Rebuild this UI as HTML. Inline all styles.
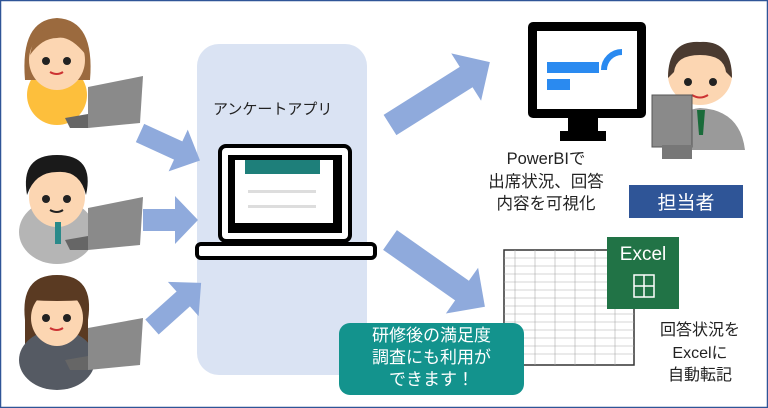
<!DOCTYPE html>
<html><head><meta charset="utf-8"><style>
body{margin:0;width:768px;height:408px;overflow:hidden;background:#fff;font-family:"Liberation Sans","Noto Sans CJK JP",sans-serif}
.t{position:absolute;white-space:nowrap;text-align:center}
</style></head><body>
<svg width="768" height="408" style="position:absolute;left:0;top:0">
<rect x="0.5" y="0.5" width="767" height="407" fill="#fff" stroke="#2f5597" stroke-width="1.5"/>
<rect x="197" y="44" width="170" height="331" rx="22" fill="#dae3f3"/>
<!-- arrows -->
<g fill="#8faadc">
<polygon transform="translate(140,133) rotate(24.6)" points="0,-10 42,-10 42,-23 66,0 42,23 42,10 0,10"/>
<polygon transform="translate(143,220)" points="0,-11 32,-11 32,-24 55,0 32,24 32,11 0,11"/>
<polygon transform="translate(152,327) rotate(-41.9)" points="0,-10 42,-10 42,-23 66,0 42,23 42,10 0,10"/>
<polygon transform="translate(390,125) rotate(-32.2)" points="0,-12 90,-12 90,-28 118,0 90,28 90,12 0,12"/>
<polygon transform="translate(390,240) rotate(35.1)" points="0,-12 88,-12 88,-28 116,0 88,28 88,12 0,12"/>
</g>
<!-- laptop -->
<rect x="220" y="146" width="130" height="95" rx="6" fill="#fff" stroke="#000" stroke-width="4"/>
<rect x="228" y="155" width="114" height="78" fill="#000"/>
<rect x="235" y="160" width="98" height="63" fill="#fff"/>
<rect x="245" y="160" width="75" height="14" fill="#1e7f7a"/>
<rect x="248" y="190" width="68" height="3" fill="#ddd"/><rect x="248" y="205" width="68" height="3" fill="#ddd"/>
<rect x="197" y="244" width="178" height="14" rx="4" fill="#fff" stroke="#000" stroke-width="4"/>
<!-- monitor -->
<rect x="528" y="22" width="118" height="96" rx="5" fill="#000"/>
<rect x="537" y="31" width="100" height="78" fill="#fff"/>
<rect x="547" y="62" width="52" height="11" fill="#2a8af0"/><rect x="547" y="79" width="23" height="11" fill="#2a8af0"/>
<path d="M604 70 A18 18 0 0 1 622 52" stroke="#2a8af0" stroke-width="6" fill="none"/>
<rect x="568" y="118" width="30" height="14" fill="#000"/><rect x="560" y="131" width="46" height="10" fill="#000"/>
<!-- right person -->
<ellipse cx="700" cy="75" rx="32" ry="30" fill="#fcd6b2"/>
<path d="M668 78 Q668 40 700 42 Q732 40 732 78 L726 72 Q724 55 700 55 Q676 55 674 72Z" fill="#4a3a30"/>
<circle cx="688" cy="82" r="4" fill="#222"/><circle cx="713" cy="82" r="4" fill="#222"/>
<path d="M692 95 Q700 100 708 95" stroke="#c33" stroke-width="2" fill="none"/>
<path d="M670 150 Q672 110 700 108 Q740 110 745 150Z" fill="#9a9a9a"/>
<path d="M697 110 L705 110 L703 135 L699 135Z" fill="#1a6b3a"/>
<rect x="652" y="95" width="40" height="52" fill="#8a8a8a" stroke="#555"/>
<rect x="662" y="145" width="30" height="14" fill="#777"/>
<!-- spreadsheet -->
<rect x="504" y="250" width="130" height="115" fill="#fff" stroke="#333" stroke-width="1.5"/>
<g stroke="#aaa" stroke-width="0.6">
<line x1="504" y1="258" x2="634" y2="258"/><line x1="504" y1="266" x2="634" y2="266"/><line x1="504" y1="274" x2="634" y2="274"/><line x1="504" y1="282" x2="634" y2="282"/><line x1="504" y1="290" x2="634" y2="290"/><line x1="504" y1="298" x2="634" y2="298"/><line x1="504" y1="306" x2="634" y2="306"/><line x1="504" y1="314" x2="634" y2="314"/><line x1="504" y1="322" x2="634" y2="322"/><line x1="504" y1="330" x2="634" y2="330"/><line x1="504" y1="338" x2="634" y2="338"/><line x1="504" y1="346" x2="634" y2="346"/><line x1="504" y1="354" x2="634" y2="354"/>
<line x1="515" y1="250" x2="515" y2="365"/><line x1="535" y1="250" x2="535" y2="365"/><line x1="555" y1="250" x2="555" y2="365"/><line x1="575" y1="250" x2="575" y2="365"/><line x1="595" y1="250" x2="595" y2="365"/><line x1="615" y1="250" x2="615" y2="365"/>
</g>
<rect x="607" y="237" width="72" height="72" fill="#217346"/>
<g stroke="#fff" stroke-width="1.5" fill="none"><rect x="634" y="275" width="20" height="22"/><line x1="644" y1="275" x2="644" y2="297"/><line x1="634" y1="286" x2="654" y2="286"/></g>
<!-- left people -->
<g>
<ellipse cx="57" cy="95" rx="30" ry="30" fill="#fdbf3c"/>
<path d="M25 80 Q20 20 57 18 Q95 20 90 80Z" fill="#9b6a3e"/>
<ellipse cx="57" cy="60" rx="28" ry="30" fill="#fcd6b2"/>
<path d="M30 55 Q35 25 57 28 Q82 25 86 55 Q70 35 57 38 Q42 38 30 55Z" fill="#9b6a3e"/>
<circle cx="46" cy="61" r="4" fill="#222"/><circle cx="67" cy="61" r="4" fill="#222"/>
<path d="M50 72 Q57 76 63 72" stroke="#c33" stroke-width="2" fill="none"/>
<polygon points="88,87 143,76 140,123 88,128" fill="#8a8a8a"/><polygon points="65,118 88,114 88,128 70,128" fill="#666"/>
</g>
<g>
<ellipse cx="57" cy="232" rx="38" ry="32" fill="#b5b5b5"/>
<ellipse cx="57" cy="197" rx="28" ry="30" fill="#fcd6b2"/>
<path d="M27 195 Q20 155 57 155 Q95 155 86 195 Q80 170 57 172 Q35 172 27 195Z" fill="#1a1a1a"/>
<circle cx="46" cy="199" r="4" fill="#222"/><circle cx="67" cy="199" r="4" fill="#222"/>
<path d="M50 210 Q57 214 63 210" stroke="#222" stroke-width="2" fill="none"/>
<rect x="55" y="222" width="6" height="22" fill="#2a8a8a"/>
<polygon points="88,208 143,197 140,245 88,250" fill="#8a8a8a"/><polygon points="65,240 88,236 88,250 70,250" fill="#666"/>
</g>
<g>
<path d="M25 320 Q20 275 57 275 Q95 275 88 320 L88 345 L25 345Z" fill="#5a3a22"/>
<ellipse cx="57" cy="360" rx="38" ry="30" fill="#555a63"/>
<ellipse cx="57" cy="318" rx="26" ry="28" fill="#fcd6b2"/>
<path d="M30 312 Q32 288 57 288 Q84 288 85 312 L85 300 Q57 302 30 300Z" fill="#5a3a22"/>
<circle cx="46" cy="318" r="4" fill="#222"/><circle cx="67" cy="318" r="4" fill="#222"/>
<path d="M50 328 Q57 332 63 328" stroke="#c33" stroke-width="2" fill="none"/>
<polygon points="88,328 143,318 140,365 88,370" fill="#8a8a8a"/><polygon points="65,360 88,356 88,370 70,370" fill="#666"/>
</g>
<rect x="629" y="185" width="114" height="33" fill="#2f5597"/>
<rect x="339" y="323" width="185" height="72" rx="11" fill="#13938d"/>
</svg>
<div class="t" style="left:213px;top:98px;font-size:15px;color:#222">アンケートアプリ</div>
<div class="t" style="left:469px;top:148px;width:154px;font-size:16.5px;line-height:22.5px;color:#222">PowerBIで<br>出席状況、回答<br>内容を可視化</div>
<div class="t" style="left:629px;top:188px;width:114px;font-size:19px;color:#fff">担当者</div>
<div class="t" style="left:607px;top:244px;width:72px;font-size:19px;color:#fff">Excel</div>
<div class="t" style="left:640px;top:320px;width:120px;font-size:16px;line-height:22.5px;color:#222">回答状況を<br>Excelに<br>自動転記</div>
<div class="t" style="left:339px;top:325px;width:185px;font-size:17px;line-height:22px;color:#fff">研修後の満足度<br>調査にも利用が<br>できます！</div>
</body></html>
